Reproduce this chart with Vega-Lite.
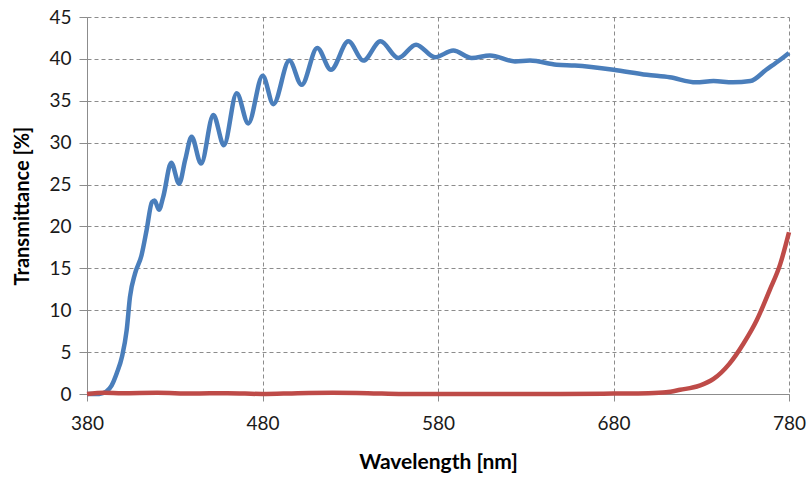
{
  "$schema": "https://vega.github.io/schema/vega-lite/v6.json",
  "width": 702,
  "height": 377,
  "autosize": {"type": "none"},
  "padding": {"left": 87, "top": 17, "right": 20, "bottom": 86},
  "background": "white",
  "config": {
    "view": {"stroke": null},
    "font": "Lato",
    "axis": {
      "gridColor": "#8c8c8c",
      "gridDash": [4, 3],
      "gridWidth": 1,
      "domainColor": "#8c8c8c",
      "tickColor": "#8c8c8c",
      "labelColor": "#1a1a1a",
      "titleColor": "#000000",
      "labelFont": "Lato",
      "titleFont": "Lato",
      "labelFontSize": 19,
      "titleFontSize": 20,
      "titleFontWeight": "bold"
    }
  },
  "data": {
    "values": [
      {"wl": 380, "t": 0, "s": "A"},
      {"wl": 387, "t": 0, "s": "A"},
      {"wl": 391, "t": 0.3, "s": "A"},
      {"wl": 394, "t": 1.0, "s": "A"},
      {"wl": 397, "t": 2.5, "s": "A"},
      {"wl": 400, "t": 4.5, "s": "A"},
      {"wl": 402.6, "t": 7.6, "s": "A"},
      {"wl": 404.5, "t": 11.6, "s": "A"},
      {"wl": 407.4, "t": 14.4, "s": "A"},
      {"wl": 411, "t": 16.5, "s": "A"},
      {"wl": 414, "t": 19.6, "s": "A"},
      {"wl": 417, "t": 22.9, "s": "A"},
      {"wl": 418.5, "t": 23.1, "s": "A"},
      {"wl": 421, "t": 22.0, "s": "A"},
      {"wl": 423.5, "t": 23.6, "s": "A"},
      {"wl": 428, "t": 27.6, "s": "A"},
      {"wl": 432.5, "t": 25.1, "s": "A"},
      {"wl": 436, "t": 28.0, "s": "A"},
      {"wl": 439.6, "t": 30.7, "s": "A"},
      {"wl": 445, "t": 27.5, "s": "A"},
      {"wl": 452, "t": 33.3, "s": "A"},
      {"wl": 458, "t": 29.7, "s": "A"},
      {"wl": 465.3, "t": 35.9, "s": "A"},
      {"wl": 471.9, "t": 32.3, "s": "A"},
      {"wl": 480.1, "t": 38.0, "s": "A"},
      {"wl": 486.2, "t": 34.6, "s": "A"},
      {"wl": 495.3, "t": 39.8, "s": "A"},
      {"wl": 502.3, "t": 36.9, "s": "A"},
      {"wl": 511.2, "t": 41.3, "s": "A"},
      {"wl": 519, "t": 38.7, "s": "A"},
      {"wl": 528.9, "t": 42.1, "s": "A"},
      {"wl": 537.5, "t": 39.8, "s": "A"},
      {"wl": 547.2, "t": 42.1, "s": "A"},
      {"wl": 557.4, "t": 40.1, "s": "A"},
      {"wl": 567.5, "t": 41.7, "s": "A"},
      {"wl": 578.3, "t": 40.2, "s": "A"},
      {"wl": 588.7, "t": 41.0, "s": "A"},
      {"wl": 599.2, "t": 40.1, "s": "A"},
      {"wl": 609.6, "t": 40.4, "s": "A"},
      {"wl": 623.9, "t": 39.7, "s": "A"},
      {"wl": 632.4, "t": 39.8, "s": "A"},
      {"wl": 647.6, "t": 39.3, "s": "A"},
      {"wl": 658, "t": 39.2, "s": "A"},
      {"wl": 680, "t": 38.7, "s": "A"},
      {"wl": 699, "t": 38.1, "s": "A"},
      {"wl": 712, "t": 37.8, "s": "A"},
      {"wl": 727, "t": 37.2, "s": "A"},
      {"wl": 737, "t": 37.35, "s": "A"},
      {"wl": 748, "t": 37.2, "s": "A"},
      {"wl": 758, "t": 37.35, "s": "A"},
      {"wl": 767, "t": 38.7, "s": "A"},
      {"wl": 775, "t": 39.9, "s": "A"},
      {"wl": 780, "t": 40.7, "s": "A"},
      {"wl": 380, "t": 0, "s": "B"},
      {"wl": 390, "t": 0.15, "s": "B"},
      {"wl": 400, "t": 0.1, "s": "B"},
      {"wl": 420, "t": 0.15, "s": "B"},
      {"wl": 440, "t": 0.05, "s": "B"},
      {"wl": 460, "t": 0.1, "s": "B"},
      {"wl": 480, "t": 0, "s": "B"},
      {"wl": 500, "t": 0.1, "s": "B"},
      {"wl": 520, "t": 0.15, "s": "B"},
      {"wl": 540, "t": 0.1, "s": "B"},
      {"wl": 560, "t": 0, "s": "B"},
      {"wl": 600, "t": 0, "s": "B"},
      {"wl": 650, "t": 0, "s": "B"},
      {"wl": 680, "t": 0.05, "s": "B"},
      {"wl": 700, "t": 0.1, "s": "B"},
      {"wl": 710, "t": 0.2, "s": "B"},
      {"wl": 718, "t": 0.5, "s": "B"},
      {"wl": 729, "t": 1.0, "s": "B"},
      {"wl": 737, "t": 1.8, "s": "B"},
      {"wl": 746, "t": 3.6, "s": "B"},
      {"wl": 754, "t": 6.0, "s": "B"},
      {"wl": 761.6, "t": 8.8, "s": "B"},
      {"wl": 769, "t": 12.4, "s": "B"},
      {"wl": 775, "t": 15.5, "s": "B"},
      {"wl": 780, "t": 19.3, "s": "B"}
    ]
  },
  "mark": {"type": "line", "strokeWidth": 4.5, "interpolate": "monotone", "clip": false},
  "encoding": {
    "x": {
      "field": "wl",
      "type": "quantitative",
      "scale": {"domain": [380, 780], "nice": false, "zero": false},
      "axis": {
        "title": "Wavelength [nm]",
        "titleFontSize": 21,
        "values": [380, 480, 580, 680, 780],
        "tickSize": 7,
        "labelPadding": 13,
        "titlePadding": 18,
        "labelFlush": false
      }
    },
    "y": {
      "field": "t",
      "type": "quantitative",
      "scale": {"domain": [0, 45], "nice": false},
      "axis": {
        "title": "Transmittance [%]",
        "values": [0, 5, 10, 15, 20, 25, 30, 35, 40, 45],
        "tickSize": 8,
        "labelPadding": 8,
        "titlePadding": 16
      }
    },
    "color": {
      "field": "s",
      "type": "nominal",
      "scale": {"domain": ["A", "B"], "range": ["#4a7ebb", "#be4b48"]},
      "legend": null
    },
    "order": {"field": "wl", "type": "quantitative"}
  }
}
